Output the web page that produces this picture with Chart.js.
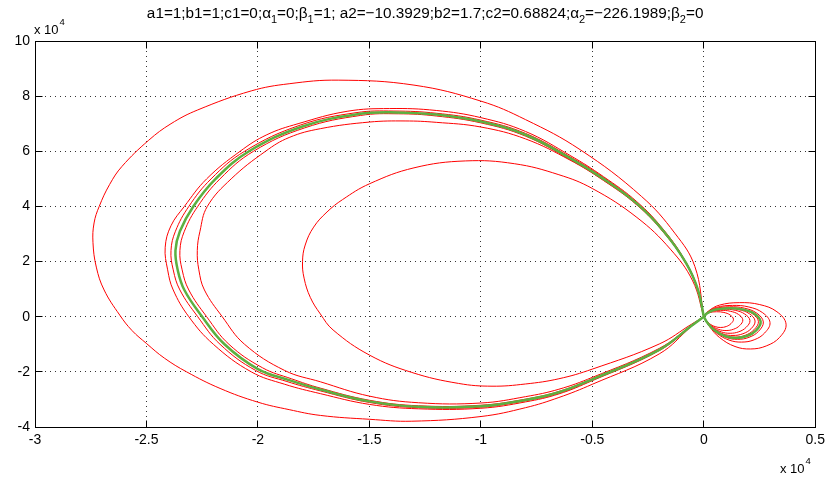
<!DOCTYPE html>
<html>
<head>
<meta charset="utf-8">
<script src="https://cdn.jsdelivr.net/npm/chart.js@4.4.0/dist/chart.umd.min.js"></script>
<style>
  html, body { margin: 0; padding: 0; background: #fff; }
  #wrap { width: 830px; height: 482px; }
</style>
</head>
<body>
<div id="wrap"><canvas id="chart" width="830" height="482"></canvas></div>
<script>
// tick values (x 10^4)
const xTicks = [-3, -2.5, -2, -1.5, -1, -0.5, 0, 0.5];
const yTicks = [-4, -2, 0, 2, 4, 6, 8, 10];

// title pieces: [text, isSubscript]
const titleParts = [
    ['a1=1;b1=1;c1=0;\u03b1', 0], ['1', 1], ['=0;\u03b2', 0], ['1', 1],
    ['=1; a2=\u221210.3929;b2=1.7;c2=0.68824;\u03b1', 0], ['2', 1],
    ['=\u2212226.1989;\u03b2', 0], ['2', 1], ['=0', 0],
];

// big loops (red)
const outerX = [0, -0.055, -0.2, -0.5, -0.65, -0.8, -1.0, -1.31, -1.5, -1.72, -1.86, -2.0, -2.17, -2.32, -2.42, -2.5, -2.565, -2.62, -2.69, -2.725, -2.74, -2.735, -2.712, -2.665, -2.61, -2.49, -2.39, -2.27, -2.03, -1.86, -1.64, -1.3, -1.0, -0.8, -0.555, -0.279, -0.13, -0.04, 0];
const outerY = [0, -0.35, -1.35, -2.45, -2.93, -3.3, -3.62, -3.79, -3.72, -3.58, -3.37, -3.1, -2.6, -2.0, -1.5, -0.97, -0.5, 0.06, 0.97, 1.8, 2.7, 3.4, 4.0, 4.8, 5.45, 6.4, 7.0, 7.5, 8.19, 8.45, 8.58, 8.4, 7.82, 7.15, 6.06, 4.36, 3.03, 1.82, 0];

const loop2X = [0, -0.055, -0.2, -0.5, -0.65, -0.8, -1.0, -1.28, -1.5, -1.72, -1.88, -2.03, -2.2, -2.31, -2.38, -2.405, -2.416, -2.39, -2.33, -2.23, -2.08, -1.96, -1.82, -1.6, -1.41, -1.2, -1.0, -0.8, -0.6, -0.45, -0.3, -0.18, -0.08, -0.025, 0];
const loop2Y = [0, -0.34, -1.23, -2.32, -2.8, -3.09, -3.32, -3.34, -3.18, -2.79, -2.45, -2.0, -1.0, 0, 0.97, 1.7, 2.52, 3.3, 4.0, 5.0, 6.0, 6.6, 7.0, 7.45, 7.55, 7.48, 7.22, 6.72, 5.85, 5.08, 4.17, 3.15, 1.98, 0.96, 0];

const loop3aX = [0, -0.055, -0.2, -0.5, -0.65, -0.8, -1.0, -1.28, -1.5, -1.72, -1.87, -2.01, -2.17, -2.27, -2.35, -2.38, -2.39, -2.37, -2.31, -2.21, -2.06, -1.81, -1.56, -1.39, -1.2, -1.0, -0.8, -0.6, -0.45, -0.3, -0.18, -0.08, -0.025, 0];
const loop3aY = [0, -0.335, -1.21, -2.29, -2.77, -3.05, -3.28, -3.3, -3.11, -2.69, -2.35, -1.95, -1.0, 0, 0.97, 1.7, 2.4, 3.1, 4.0, 5.0, 6.0, 6.95, 7.4, 7.46, 7.38, 7.13, 6.65, 5.8, 5.05, 4.13, 3.13, 1.97, 0.96, 0];

const loop3bX = [0, -0.055, -0.2, -0.5, -0.65, -0.8, -1.0, -1.28, -1.5, -1.72, -1.85, -1.98, -2.13, -2.23, -2.31, -2.34, -2.35, -2.33, -2.27, -2.17, -2.02, -1.79, -1.54, -1.37, -1.2, -1.0, -0.8, -0.6, -0.45, -0.3, -0.18, -0.08, -0.025, 0];
const loop3bY = [0, -0.325, -1.19, -2.25, -2.71, -2.99, -3.21, -3.23, -3.03, -2.59, -2.25, -1.85, -1.0, 0, 0.97, 1.7, 2.4, 3.1, 4.0, 5.0, 6.0, 6.85, 7.3, 7.36, 7.28, 7.03, 6.55, 5.7, 4.96, 4.07, 3.07, 1.93, 0.94, 0];

const loop4X = [0, -0.055, -0.2, -0.5, -0.65, -0.8, -1.0, -1.28, -1.5, -1.72, -1.88, -2.06, -2.16, -2.24, -2.265, -2.272, -2.26, -2.227, -2.12, -1.966, -1.86, -1.72, -1.5, -1.34, -1.2, -1.0, -0.8, -0.6, -0.45, -0.3, -0.18, -0.08, -0.025, 0];
const loop4Y = [0, -0.32, -1.15, -2.2, -2.63, -2.9, -3.13, -3.12, -2.88, -2.36, -1.95, -1.0, 0, 0.97, 1.7, 2.4, 3.1, 4.0, 5.0, 6.0, 6.5, 6.82, 7.06, 7.1, 7.05, 6.88, 6.45, 5.68, 4.94, 4.05, 3.05, 1.92, 0.94, 0];

const innerX = [0, -0.055, -0.2, -0.5, -0.65, -0.8, -0.95, -1.1, -1.31, -1.5, -1.663, -1.72, -1.765, -1.793, -1.8, -1.788, -1.75, -1.69, -1.62, -1.5, -1.3, -1.07, -0.85, -0.65, -0.5, -0.3, -0.15, -0.05, 0];
const innerY = [0, -0.27, -0.99, -1.9, -2.25, -2.44, -2.52, -2.42, -2.02, -1.39, -0.48, 0.1, 0.7, 1.4, 2.0, 2.6, 3.25, 3.8, 4.25, 4.82, 5.4, 5.65, 5.55, 5.15, 4.65, 3.6, 2.45, 1.3, 0];

// big loop (green)
const greenBigX = [0, -0.055, -0.2, -0.5, -0.65, -0.8, -1.0, -1.28, -1.5, -1.72, -1.86, -2.0, -2.15, -2.25, -2.33, -2.36, -2.37, -2.35, -2.29, -2.19, -2.04, -1.8, -1.55, -1.38, -1.2, -1.0, -0.8, -0.6, -0.45, -0.3, -0.18, -0.08, -0.025, 0];
const greenBigY = [0, -0.33, -1.2, -2.27, -2.74, -3.02, -3.25, -3.27, -3.07, -2.64, -2.3, -1.9, -1.0, 0, 0.97, 1.7, 2.4, 3.1, 4.0, 5.0, 6.0, 6.9, 7.35, 7.41, 7.33, 7.08, 6.6, 5.75, 5.0, 4.1, 3.1, 1.95, 0.95, 0];

// small loops right of the origin (red)
const small1X = [0, 0.007, 0.025, 0.057, 0.09, 0.118, 0.133, 0.122, 0.101, 0.076, 0.051, 0.025, 0.009, 0];
const small1Y = [0, 0.07, 0.148, 0.18, 0.155, 0.063, -0.09, -0.25, -0.355, -0.39, -0.359, -0.25, -0.117, 0];
const small2X = [0, 0.009, 0.033, 0.075, 0.119, 0.156, 0.175, 0.161, 0.133, 0.1, 0.067, 0.033, 0.012, 0];
const small2Y = [0, 0.09, 0.189, 0.23, 0.198, 0.081, -0.115, -0.32, -0.455, -0.5, -0.46, -0.32, -0.15, 0];
const small3X = [0, 0.011, 0.039, 0.089, 0.141, 0.184, 0.207, 0.19, 0.157, 0.118, 0.079, 0.039, 0.014, 0];
const small3Y = [0, 0.105, 0.221, 0.27, 0.232, 0.095, -0.138, -0.384, -0.546, -0.6, -0.552, -0.384, -0.18, 0];
const small4X = [0, 0.012, 0.044, 0.099, 0.156, 0.205, 0.23, 0.212, 0.175, 0.131, 0.087, 0.044, 0.016, 0];
const small4Y = [0, 0.117, 0.246, 0.3, 0.258, 0.105, -0.156, -0.435, -0.619, -0.68, -0.626, -0.435, -0.204, 0];
const small5X = [0, 0.013, 0.047, 0.105, 0.167, 0.218, 0.245, 0.225, 0.186, 0.14, 0.093, 0.047, 0.017, 0];
const small5Y = [0, 0.125, 0.262, 0.32, 0.275, 0.112, -0.17, -0.474, -0.673, -0.74, -0.681, -0.474, -0.222, 0];
const small6X = [0, 0.014, 0.051, 0.115, 0.182, 0.238, 0.267, 0.246, 0.203, 0.152, 0.101, 0.051, 0.018, 0];
const small6Y = [0, 0.14, 0.295, 0.36, 0.31, 0.126, -0.189, -0.525, -0.746, -0.82, -0.754, -0.525, -0.246, 0];
const small7X = [0, 0.016, 0.056, 0.128, 0.202, 0.264, 0.297, 0.273, 0.226, 0.169, 0.113, 0.056, 0.02, 0];
const small7Y = [0, 0.16, 0.336, 0.41, 0.353, 0.144, -0.212, -0.589, -0.837, -0.92, -0.846, -0.589, -0.276, 0];
const small8X = [0, 0.02, 0.07, 0.159, 0.251, 0.328, 0.369, 0.34, 0.28, 0.21, 0.14, 0.07, 0.025, 0];
const small8Y = [0, 0.2, 0.42, 0.51, 0.44, 0.18, -0.27, -0.75, -1.06, -1.17, -1.08, -0.75, -0.35, 0];

// small loop (green)
const greenSmallX = [0, 0.014, 0.048, 0.11, 0.173, 0.227, 0.255, 0.235, 0.194, 0.145, 0.097, 0.048, 0.017, 0];
const greenSmallY = [0, 0.12, 0.254, 0.31, 0.267, 0.109, -0.177, -0.493, -0.7, -0.77, -0.708, -0.493, -0.231, 0];

const RED = 'rgb(255,0,0)';
const GREEN = 'rgb(92,176,64)';
const FONT = '"Liberation Sans", Arial, Helvetica, sans-serif';

function pts(xs, ys) {
    return xs.map((x, i) => ({ x: x, y: ys[i] }));
}

function loop(xs, ys, color, width, order) {
    return {
        data: pts(xs, ys),
        borderColor: color,
        borderWidth: width,
        pointRadius: 0,
        tension: 0.4,
        fill: false,
        order: order,
    };
}

const redLoops = [
    [outerX, outerY], [loop2X, loop2Y], [loop3aX, loop3aY], [loop3bX, loop3bY],
    [loop4X, loop4Y], [innerX, innerY],
    [small1X, small1Y], [small2X, small2Y], [small3X, small3Y], [small4X, small4Y],
    [small5X, small5Y], [small6X, small6Y], [small7X, small7Y], [small8X, small8Y],
];

const datasets = [
    loop(greenBigX, greenBigY, GREEN, 2.5, 0),
    loop(greenSmallX, greenSmallY, GREEN, 2.5, 0),
].concat(redLoops.map(l => loop(l[0], l[1], RED, 1, 1)));

// matlab style box, inward ticks, title and exponent labels
const matlabAxes = {
    id: 'matlabAxes',
    afterDatasetsDraw(chart) {
        const { ctx, chartArea: a, scales } = chart;
        const L = Math.floor(a.left) + 0.5, R = Math.floor(a.right) + 0.5;
        const T = Math.floor(a.top) + 0.5, B = Math.floor(a.bottom) + 0.5;
        ctx.save();
        ctx.strokeStyle = '#000';
        ctx.lineWidth = 1;
        ctx.strokeRect(L, T, R - L, B - T);
        ctx.beginPath();
        xTicks.forEach(v => {
            const px = Math.floor(scales.x.getPixelForValue(v)) + 0.5;
            ctx.moveTo(px, B); ctx.lineTo(px, B - 7);
            ctx.moveTo(px, T); ctx.lineTo(px, T + 7);
        });
        yTicks.forEach(v => {
            const py = Math.floor(scales.y.getPixelForValue(v)) + 0.5;
            ctx.moveTo(L, py); ctx.lineTo(L + 7, py);
            ctx.moveTo(R, py); ctx.lineTo(R - 7, py);
        });
        ctx.stroke();
        ctx.restore();
    },
    afterDraw(chart) {
        const { ctx, chartArea: a } = chart;
        ctx.save();
        ctx.fillStyle = '#000';
        ctx.textBaseline = 'middle';
        ctx.textAlign = 'left';

        // title
        const big = '15.3px ' + FONT, small = '11px ' + FONT;
        let w = 0;
        titleParts.forEach(p => { ctx.font = p[1] ? small : big; w += ctx.measureText(p[0]).width; });
        let x = (a.left + a.right) / 2 - w / 2;
        titleParts.forEach(p => {
            ctx.font = p[1] ? small : big;
            ctx.fillText(p[0], x, p[1] ? 20 : 14);
            x += ctx.measureText(p[0]).width;
        });

        // exponent labels
        const drawExp = (x0, y0) => {
            ctx.font = '13px ' + FONT;
            ctx.fillText('x 10', x0, y0);
            const tw = ctx.measureText('x 10').width;
            ctx.font = '9.5px ' + FONT;
            ctx.fillText('4', x0 + tw + 1, y0 - 8);
        };
        drawExp(34, 30);
        drawExp(780, 469);
        ctx.restore();
    },
};

const tickFont = { family: FONT, size: 14 };

new Chart(document.getElementById('chart'), {
    type: 'line',
    data: { datasets: datasets },
    options: {
        responsive: false,
        animation: false,
        parsing: { xAxisKey: 'x', yAxisKey: 'y' },
        layout: { padding: { top: 41, right: 13, left: 0, bottom: 0 } },
        plugins: {
            legend: { display: false },
            tooltip: { enabled: false },
        },
        scales: {
            x: {
                type: 'linear',
                min: -3,
                max: 0.5,
                afterBuildTicks: s => { s.ticks = xTicks.map(v => ({ value: v })); },
                afterFit: s => { s.height = 55; },
                ticks: { color: '#000', font: tickFont, padding: 5, maxRotation: 0, autoSkip: false, callback: v => String(v) },
                grid: { color: '#333', lineWidth: 1, drawTicks: false },
                border: { display: false, dash: [1, 4] },
            },
            y: {
                type: 'linear',
                min: -4,
                max: 10,
                afterBuildTicks: s => { s.ticks = yTicks.map(v => ({ value: v })); },
                afterFit: s => { s.width = 35; },
                ticks: { color: '#000', font: tickFont, padding: 5, autoSkip: false, callback: v => String(v) },
                grid: { color: '#333', lineWidth: 1, drawTicks: false },
                border: { display: false, dash: [1, 4] },
            },
        },
    },
    plugins: [matlabAxes],
});
</script>
</body>
</html>
